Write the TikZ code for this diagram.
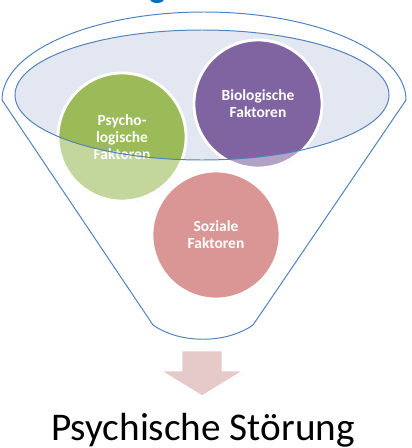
\documentclass[tikz,border=0pt]{standalone}
\usepackage{fontspec}
\setmainfont{Carlito}
\usetikzlibrary{shadows}
\definecolor{funnelblue}{RGB}{79,129,189}
\definecolor{rimfill}{RGB}{226,231,241}
\definecolor{psygreen}{RGB}{155,187,89}
\definecolor{biopurple}{RGB}{128,100,162}
\definecolor{sozpink}{RGB}{217,150,148}
\definecolor{arrowpink}{RGB}{230,202,202}
\definecolor{titleblue}{RGB}{0,112,192}

\begin{document}
\begin{tikzpicture}[x=0.025cm,y=-0.025cm]
  % funnel with three factor circles falling in
  \tikzset{fac/.style={circle,draw=white,line width=2pt,minimum size=3.2cm,inner sep=0pt,align=center,text=white,font=\bfseries\fontsize{11}{12}\selectfont,drop shadow={opacity=0.3,shadow xshift=0.6pt,shadow yshift=-0.8pt}},
    rim/.style={draw=funnelblue,line width=0.7pt}}
  \useasboundingbox (0,0) rectangle (412,448);
  \fill[titleblue] (157,-1) ellipse [x radius=7, y radius=4];
  \draw[rim] (2,100) arc [start angle=180,end angle=360,x radius=202,y radius=88] -- (253,325) .. controls (226,344) and (180,344) .. (153,325) -- cycle;
  \fill[rimfill] (202,95) ellipse [x radius=187, y radius=65];
  \node[fac,fill=psygreen] (psy) at (122,137) {Psycho-\\logische\\Faktoren};
  \node[fac,fill=biopurple] (bio) at (258,104) {Biologische\\Faktoren};
  \node[fac,fill=sozpink] (soz) at (216,235) {Soziale\\Faktoren};
  \foreach \c in {psy,bio}{
    \begin{scope}
      \clip (\c) circle [radius=64];
      \fill[white,opacity=0.4,even odd rule] (0,0) rectangle (412,448) (202,95) ellipse [x radius=187, y radius=65];
    \end{scope}}
  \draw[rim] (202,95) ellipse [x radius=187, y radius=65];
  \draw[white,line width=2pt,fill=arrowpink,drop shadow={opacity=0.3,shadow xshift=0.6pt,shadow yshift=-0.8pt}] (181,350) -- (223,350) -- (223,370) -- (246,370) -- (202,397) -- (158,370) -- (181,370) -- cycle;
  \node[font=\fontsize{27.9}{32}\selectfont,anchor=base] (dis) at (203,440) {Psychische Störung};
\end{tikzpicture}
\end{document}
